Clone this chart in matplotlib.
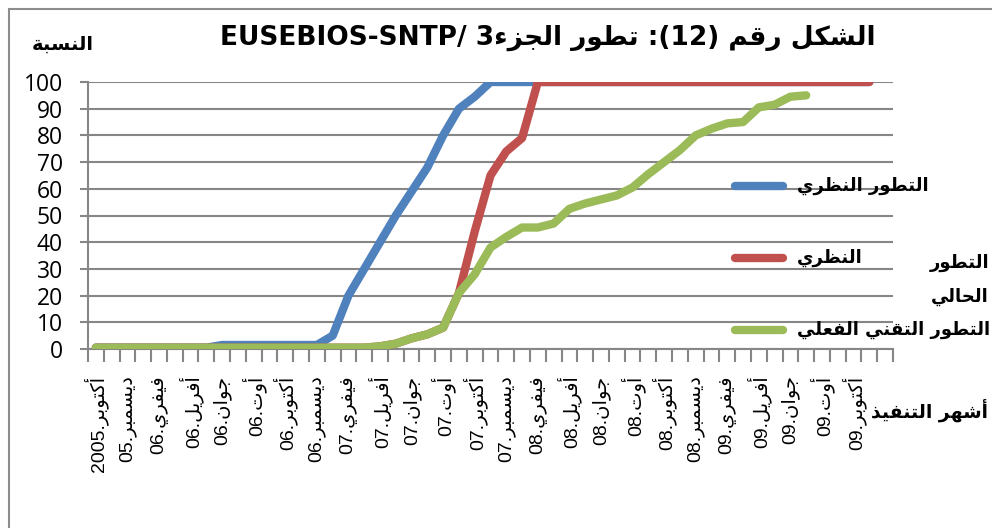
import matplotlib
matplotlib.use("Agg")
import matplotlib.pyplot as plt
from matplotlib.lines import Line2D
from matplotlib.patches import Rectangle

# Arabic presentation forms (isolated code point, number of forms)
FORMS = {
    "ء": (0xFE80, 1), "آ": (0xFE81, 2), "أ": (0xFE83, 2), "ؤ": (0xFE85, 2),
    "إ": (0xFE87, 2), "ئ": (0xFE89, 4), "ا": (0xFE8D, 2), "ب": (0xFE8F, 4),
    "ة": (0xFE93, 2), "ت": (0xFE95, 4), "ث": (0xFE99, 4), "ج": (0xFE9D, 4),
    "ح": (0xFEA1, 4), "خ": (0xFEA5, 4), "د": (0xFEA9, 2), "ذ": (0xFEAB, 2),
    "ر": (0xFEAD, 2), "ز": (0xFEAF, 2), "س": (0xFEB1, 4), "ش": (0xFEB5, 4),
    "ص": (0xFEB9, 4), "ض": (0xFEBD, 4), "ط": (0xFEC1, 4), "ظ": (0xFEC5, 4),
    "ع": (0xFEC9, 4), "غ": (0xFECD, 4), "ف": (0xFED1, 4), "ق": (0xFED5, 4),
    "ك": (0xFED9, 4), "ل": (0xFEDD, 4), "م": (0xFEE1, 4), "ن": (0xFEE5, 4),
    "ه": (0xFEE9, 4), "و": (0xFEED, 2), "ى": (0xFEEF, 2), "ي": (0xFEF1, 4),
}


def ar(text):
    # join the letters, then reverse for left-to-right drawing
    out = []
    for i, c in enumerate(text):
        if c not in FORMS:
            out.append(c)
            continue
        base, k = FORMS[c]
        prev = text[i - 1] if i > 0 else ""
        nxt = text[i + 1] if i + 1 < len(text) else ""
        jp = k > 1 and prev in FORMS and FORMS[prev][1] == 4
        jn = k == 4 and nxt in FORMS and FORMS[nxt][1] > 1
        if jp and jn:
            form = 3
        elif jp:
            form = 1
        elif jn:
            form = 2
        else:
            form = 0
        out.append(chr(base + form))
    return "".join(out)[::-1]


# data
n_months = 51
theory = [0.5, 0.5, 0.5, 0.5, 0.5, 0.5, 0.5, 0.5, 1.5, 1.5, 1.5, 1.5, 1.5, 1.5, 1.5,
          5, 20, 30, 40, 50, 59, 68, 80, 90, 94.5, 100, 100, 100, 100, 100,
          100, 100, 100, 100, 100, 100, 100, 100, 100, 100, 100, 100, 100, 100,
          100, 100, 100, 100, 100, 100]
current = [0.5, 0.5, 0.5, 0.5, 0.5, 0.5, 0.5, 0.5, 0.5, 0.5, 0.5, 0.5, 0.5, 0.5, 0.5,
           0.5, 0.5, 0.5, 1, 2, 4, 5.5, 8, 21, 44, 65, 74, 79, 100, 100,
           100, 100, 100, 100, 100, 100, 100, 100, 100, 100, 100, 100, 100, 100,
           100, 100, 100, 100, 100, 100]
actual = [0.5, 0.5, 0.5, 0.5, 0.5, 0.5, 0.5, 0.5, 0.5, 0.5, 0.5, 0.5, 0.5, 0.5, 0.5,
          0.5, 0.5, 0.5, 1, 2, 4, 5.5, 8, 21, 28, 38, 42, 45.5, 45.5, 47,
          52.5, 54.5, 56, 57.5, 60.5, 65.5, 70, 74.5, 80, 82.5, 84.5, 85, 90.5,
          91.5, 94.5, 95]

tick_months = [("2005", "أكتوبر"), ("05", "ديسمبر"), ("06", "فيفري"), ("06", "أفريل"),
               ("06", "جوان"), ("06", "أوت"), ("06", "أكتوبر"), ("06", "ديسمبر"),
               ("07", "فيفري"), ("07", "أفريل"), ("07", "جوان"), ("07", "أوت"),
               ("07", "أكتوبر"), ("07", "ديسمبر"), ("08", "فيفري"), ("08", "أفريل"),
               ("08", "جوان"), ("08", "أوت"), ("08", "أكتوبر"), ("08", "ديسمبر"),
               ("09", "فيفري"), ("09", "أفريل"), ("09", "جوان"), ("09", "أوت"),
               ("09", "أكتوبر")]

series = [theory, current, actual]
names = ["التطور النظري", "النظري", "التطور التقني الفعلي"]
colors = ["#4F81BD", "#C0504D", "#9BBB59"]

W, H = 992, 528
fig = plt.figure(figsize=(W / 100, H / 100), dpi=100)
fx = lambda px: px / W
fy = lambda py: 1 - py / H

ax = fig.add_axes([fx(88), fy(349), fx(893) - fx(88), fy(82) - fy(349)])

for vals, c in zip(series, colors):
    xs = [i + 0.5 for i in range(len(vals))]
    ax.plot(xs, vals, color=c, lw=6, solid_capstyle="round", solid_joinstyle="round",
            zorder=3)

ax.set_xlim(0, n_months)
ax.set_ylim(0, 100)
ax.set_yticks(range(0, 101, 10))
ax.yaxis.grid(True, color="#868686", lw=1.5)
ax.set_axisbelow(True)

ax.set_xticks(range(0, n_months + 1), minor=True)
ax.set_xticks([i * 2 + 0.5 for i in range(len(tick_months))])
ax.set_xticklabels([y + "." + ar(m) for y, m in tick_months], rotation=90,
                   family=["Liberation Sans", "DejaVu Sans"], fontsize=14)
ax.tick_params(axis="x", which="major", length=0, pad=19)
ax.tick_params(axis="x", which="minor", length=9, width=1.5, color="#868686")
ax.tick_params(axis="y", length=6, width=1.5, color="#868686", pad=12, labelsize=16.5)
for lab in ax.get_yticklabels():
    lab.set_family(["Open Sans", "DejaVu Sans"])

for s in ["top", "right"]:
    ax.spines[s].set_visible(False)
for s in ["left", "bottom"]:
    ax.spines[s].set_color("#868686")
    ax.spines[s].set_linewidth(1.5)

bold = dict(fontweight="bold", color="black", family=["DejaVu Sans"])
fig.text(fx(548), fy(38), "EUSEBIOS-SNTP/ 3" + ar("الجزء") + " " + ar("تطور") + " :(12) "
         + ar("رقم") + " " + ar("الشكل"), ha="center", va="center", fontsize=19, **bold)
fig.text(fx(63), fy(44), ar("النسبة"), ha="center", va="center", fontsize=14, **bold)
fig.text(fx(988), fy(410), ar("أشهر التنفيذ"), ha="right", va="center", fontsize=13.5,
         **bold)

# legend
leg_y = [186, 258, 330]
for y, c, name in zip(leg_y, colors, names):
    fig.add_artist(Line2D([fx(735), fx(783)], [fy(y), fy(y)], color=c, lw=6,
                          solid_capstyle="round"))
    fig.text(fx(797), fy(y), ar(name), ha="left", va="center", fontsize=13, **bold)
fig.text(fx(989), fy(263), ar("التطور"), ha="right", va="center", fontsize=13, **bold)
fig.text(fx(989), fy(297), ar("الحالي"), ha="right", va="center", fontsize=13, **bold)

fig.add_artist(Rectangle((fx(8.5), fy(540)), fx(1010), fy(8.5) - fy(540), fill=False,
                         edgecolor="#8c8c8c", lw=1.5))

fig.savefig("out.png", dpi=100)
